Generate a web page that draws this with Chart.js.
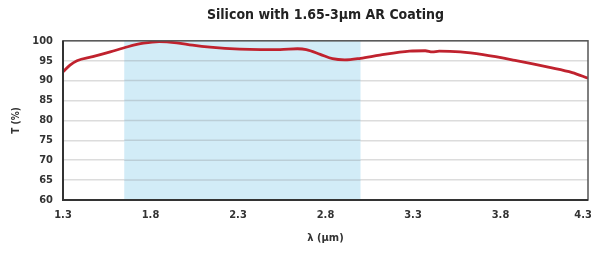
<!DOCTYPE html>
<html>
<head>
<meta charset="utf-8">
<script src="https://cdn.jsdelivr.net/npm/chart.js@4.4.1/dist/chart.umd.min.js"></script>
<style>
  html, body { margin: 0; padding: 0; background: #fff; }
  #wrap { width: 591px; height: 256px; }
</style>
</head>
<body>
<div id="wrap"><canvas id="chart" width="591" height="256"></canvas></div>
<script>
// Wavelength (um) and transmission (%)
const wavelength = [1.30, 1.34, 1.38, 1.47, 1.57, 1.67, 1.76, 1.85, 1.95, 2.04, 2.14, 2.31, 2.43, 2.54, 2.64, 2.69, 2.77, 2.84, 2.91, 3.00, 3.11, 3.28, 3.37, 3.41, 3.45, 3.57, 3.70, 3.89, 4.08, 4.21, 4.30];
const transmission = [92.2, 93.9, 95.0, 96.0, 97.2, 98.5, 99.4, 99.8, 99.5, 98.9, 98.4, 97.9, 97.8, 97.8, 98.0, 97.8, 96.6, 95.5, 95.2, 95.6, 96.4, 97.4, 97.5, 97.2, 97.4, 97.2, 96.5, 95.0, 93.3, 92.0, 90.6];

// AR coating design band
const coatingBand = [1.65, 3.0];

const xTicks = [1.3, 1.8, 2.3, 2.8, 3.3, 3.8, 4.3];
const yTicks = [60, 65, 70, 75, 80, 85, 90, 95, 100];

const fontFamily = '"Liberation Sans Narrow", "DejaVu Sans Condensed", "Roboto", sans-serif';

// Shaded band behind the curve, plus the frame round the plot
const bandPlugin = {
  id: 'band',
  beforeDatasetsDraw(chart) {
    const { ctx, chartArea, scales } = chart;
    const x0 = scales.x.getPixelForValue(coatingBand[0]);
    const x1 = scales.x.getPixelForValue(coatingBand[1]);
    ctx.save();
    ctx.fillStyle = '#d2ecf7';
    ctx.fillRect(x0, chartArea.top, x1 - x0, chartArea.bottom - chartArea.top);
    // redraw the gridlines over the band
    ctx.strokeStyle = 'rgba(160,170,175,0.45)';
    ctx.lineWidth = 1.5;
    yTicks.forEach(v => {
      const y = scales.y.getPixelForValue(v);
      ctx.beginPath();
      ctx.moveTo(x0, y);
      ctx.lineTo(x1, y);
      ctx.stroke();
    });
    ctx.restore();
  },
  afterDraw(chart) {
    const { ctx, chartArea } = chart;
    ctx.save();
    ctx.strokeStyle = '#555';
    ctx.lineWidth = 1.5;
    ctx.strokeRect(chartArea.left, chartArea.top, chartArea.right - chartArea.left, chartArea.bottom - chartArea.top);
    ctx.strokeStyle = '#333';
    ctx.lineWidth = 2;
    ctx.beginPath();
    ctx.moveTo(chartArea.left, chartArea.top);
    ctx.lineTo(chartArea.left, chartArea.bottom);
    ctx.lineTo(chartArea.right, chartArea.bottom);
    ctx.stroke();
    ctx.restore();
  }
};

const points = wavelength.map((w, i) => ({ x: w, y: transmission[i] }));

new Chart(document.getElementById('chart').getContext('2d'), {
  type: 'line',
  data: {
    datasets: [{
      data: points,
      borderColor: '#c0222e',
      borderWidth: 2.8,
      pointRadius: 0,
      tension: 0.4,
      cubicInterpolationMode: 'monotone',
      fill: false
    }]
  },
  options: {
    responsive: false,
    animation: false,
    layout: { padding: { left: 0, right: 3, top: 0, bottom: 0 } },
    plugins: {
      legend: { display: false },
      tooltip: { enabled: false },
      title: {
        display: true,
        text: 'Silicon with 1.65-3\u03bcm AR Coating',
        fullSize: false,
        color: '#222',
        font: { family: fontFamily, size: 14, weight: 'bold', lineHeight: 1.2 },
        padding: { top: 7, bottom: 17 }
      }
    },
    scales: {
      x: {
        type: 'linear',
        min: 1.3,
        max: 4.3,
        afterBuildTicks: scale => { scale.ticks = xTicks.map(v => ({ value: v })); },
        afterFit: scale => {
          scale.height = 56;
          scale.paddingLeft = 0;
          scale.paddingRight = 0;
        },
        grid: { display: false, drawTicks: false },
        border: { display: false },
        ticks: {
          color: '#333',
          padding: 9,
          maxRotation: 0,
          autoSkip: false,
          font: { family: fontFamily, size: 11, weight: 'bold' },
          // last label sits against the canvas edge, nudge it left
          callback: (v, i, ticks) => v.toFixed(1) + (i === ticks.length - 1 ? '\u2002\u2002' : '')
        },
        title: {
          display: true,
          text: '\u03bb (\u03bcm)',
          color: '#333',
          padding: { top: 2, bottom: 11 },
          font: { family: fontFamily, size: 11, weight: 'bold' }
        }
      },
      y: {
        min: 60,
        max: 100,
        afterBuildTicks: scale => { scale.ticks = yTicks.map(v => ({ value: v })); },
        afterFit: scale => { scale.width = 63; },
        grid: { color: '#dcdcdc', lineWidth: 1.5, drawTicks: false },
        border: { display: false },
        ticks: {
          color: '#333',
          padding: 10,
          font: { family: fontFamily, size: 11, weight: 'bold' }
        },
        title: {
          display: true,
          text: 'T (%)',
          color: '#333',
          padding: { top: 10, bottom: 4 },
          font: { family: fontFamily, size: 10, weight: 'bold' }
        }
      }
    }
  },
  plugins: [bandPlugin]
});
</script>
</body>
</html>
